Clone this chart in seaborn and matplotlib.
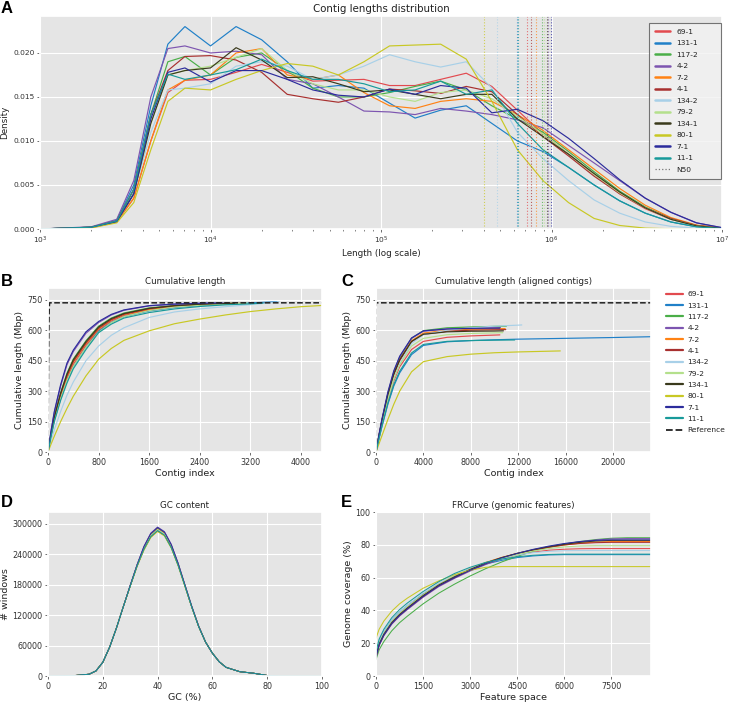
import numpy as np
import pandas as pd
import matplotlib
matplotlib.use("Agg")
import matplotlib.pyplot as plt
import seaborn as sns
from matplotlib.lines import Line2D
from matplotlib.ticker import MultipleLocator

# =========================
# SAMPLES + COLOURS
# =========================
samples = ["69-1", "131-1", "117-2", "4-2", "7-2", "4-1",
           "134-2", "79-2", "134-1", "80-1", "7-1", "11-1"]
colors = ["#e24a4f", "#2080c8", "#4aae48", "#7d55b0", "#ff8214", "#a8302f",
          "#a8d0e8", "#b4e08c", "#3a3a1c", "#c8c824", "#2c2c9c", "#189a9a"]
pal = dict(zip(samples, colors))

# =========================
# A: contig length density (x = log10 length, y = density x 1000)
# =========================
log_len = [3.0, 3.3, 3.45, 3.55, 3.65, 3.75, 3.85, 4.0, 4.15, 4.3, 4.45, 4.6, 4.75, 4.9,
           5.05, 5.2, 5.35, 5.5, 5.65, 5.8, 5.95, 6.1, 6.25, 6.4, 6.55, 6.7, 6.85, 7.0]
dens = {
    "69-1":  [0, 0.15, 0.8, 3.5, 10.0, 15.5, 16.9, 17.0, 17.8, 18.7, 17.8, 16.8, 16.9, 17.0,
              16.3, 16.3, 17.0, 17.7, 16.2, 13.5, 10.8, 8.5, 6.2, 4.0, 2.3, 1.1, 0.4, 0.1],
    "131-1": [0, 0.2, 1.0, 5.0, 14.0, 21.0, 23.0, 20.8, 23.0, 21.5, 19.0, 16.0, 16.3, 16.0,
              14.3, 12.6, 13.5, 14.0, 12.0, 10.0, 8.8, 7.0, 5.0, 3.2, 1.8, 0.8, 0.25, 0.05],
    "117-2": [0, 0.2, 0.9, 4.5, 13.0, 19.0, 19.6, 17.5, 19.5, 20.0, 18.0, 16.0, 15.0, 15.0,
              15.5, 16.2, 16.8, 15.8, 14.0, 12.5, 11.0, 8.8, 6.5, 4.3, 2.5, 1.2, 0.4, 0.1],
    "4-2":   [0, 0.25, 1.1, 5.5, 15.0, 20.5, 20.8, 20.0, 20.2, 19.8, 17.0, 16.5, 15.0, 13.4,
              13.3, 13.0, 13.7, 13.4, 13.0, 12.4, 11.5, 9.5, 7.5, 5.5, 3.5, 1.9, 0.7, 0.15],
    "7-2":   [0, 0.15, 0.8, 3.5, 10.0, 15.8, 16.9, 17.5, 20.0, 20.5, 17.5, 17.0, 17.5, 15.5,
              14.0, 13.7, 14.5, 14.8, 14.5, 13.0, 11.2, 9.0, 6.8, 4.6, 2.7, 1.3, 0.45, 0.1],
    "4-1":   [0, 0.2, 0.9, 4.5, 13.0, 18.0, 19.6, 19.7, 19.2, 17.8, 15.3, 14.8, 14.4, 15.0,
              15.9, 15.7, 15.4, 16.2, 15.6, 13.0, 10.5, 8.3, 6.0, 4.0, 2.4, 1.2, 0.4, 0.1],
    "134-2": [0, 0.2, 0.85, 4.0, 11.0, 15.8, 16.0, 16.5, 18.5, 19.0, 18.5, 17.0, 17.5, 18.5,
              19.8, 19.0, 18.4, 19.0, 16.0, 11.0, 8.0, 5.5, 3.3, 1.8, 0.8, 0.3, 0.1, 0.0],
    "79-2":  [0, 0.2, 0.85, 4.0, 12.0, 17.5, 18.0, 18.5, 19.5, 20.5, 18.0, 16.5, 15.8, 15.8,
              15.0, 14.5, 15.5, 15.8, 14.8, 12.8, 10.8, 8.5, 6.2, 4.1, 2.4, 1.1, 0.35, 0.08],
    "134-1": [0, 0.2, 0.85, 4.0, 12.0, 17.5, 18.0, 18.3, 20.6, 19.2, 17.2, 17.3, 16.5, 15.6,
              15.8, 15.3, 14.8, 15.3, 15.3, 12.5, 10.5, 8.5, 6.3, 4.2, 2.4, 1.1, 0.35, 0.08],
    "80-1":  [0, 0.12, 0.7, 3.0, 9.0, 14.5, 16.0, 15.8, 17.0, 18.0, 18.8, 18.5, 17.5, 19.0,
              20.8, 20.9, 21.0, 19.3, 14.5, 9.0, 5.5, 3.0, 1.2, 0.4, 0.1, 0.03, 0.0, 0.0],
    "7-1":   [0, 0.2, 0.85, 4.0, 12.5, 17.8, 18.3, 16.7, 18.0, 18.0, 17.0, 15.8, 15.2, 15.0,
              15.9, 15.3, 16.3, 16.0, 13.2, 13.6, 12.3, 10.3, 8.0, 5.6, 3.5, 1.9, 0.7, 0.15],
    "11-1":  [0, 0.2, 0.9, 4.5, 13.0, 17.6, 17.0, 17.5, 18.1, 19.3, 18.0, 17.0, 17.0, 16.5,
              15.6, 15.8, 16.8, 15.3, 15.8, 12.0, 9.0, 7.0, 5.0, 3.2, 1.8, 0.8, 0.25, 0.05],
}
n50 = [716000, 625000, 880000, 960000, 810000, 755000,
       477000, 900000, 935000, 404000, 990000, 640000]

# =========================
# B: cumulative length (Mbp)
# =========================
b_grid = [0, 50, 100, 200, 300, 400, 600, 800, 1000, 1200, 1600, 2000, 2400, 2800, 3200, 3600, 4000]
b_cum = {
    "69-1":  [0, 85, 160, 272, 362, 432, 525, 600, 645, 673, 700, 716, 725, 730],
    "131-1": [0, 82, 155, 262, 350, 420, 515, 595, 638, 667, 695, 712, 722, 729, 735, 740],
    "117-2": [0, 95, 175, 292, 388, 458, 548, 620, 660, 685, 710, 722, 728, 732],
    "4-2":   [0, 105, 195, 325, 430, 495, 585, 638, 675, 698, 720, 728, 732, 734],
    "7-2":   [0, 88, 165, 280, 372, 442, 533, 606, 650, 677, 703, 718, 726, 731],
    "4-1":   [0, 88, 168, 284, 376, 446, 537, 610, 652, 679, 706, 720, 727, 731],
    "134-2": [0, 58, 110, 200, 280, 345, 450, 522, 575, 612, 663, 690, 705, 716, 726, 738],
    "79-2":  [0, 82, 155, 265, 352, 420, 515, 590, 637, 667, 697, 714, 723, 729],
    "134-1": [0, 92, 172, 290, 384, 454, 544, 616, 657, 682, 708, 721, 728, 732],
    "80-1":  [0, 40, 78, 150, 215, 275, 375, 457, 510, 550, 597, 632, 655, 675, 692, 705, 716],
    "7-1":   [0, 108, 200, 332, 438, 502, 592, 643, 678, 700, 721, 729, 733],
    "11-1":  [0, 80, 150, 255, 340, 410, 505, 588, 630, 660, 687, 705, 717, 725, 730],
}
b_end_idx = [3050, 3620, 3000, 2850, 3100, 2900, 3650, 3150, 2950, 4330, 2750, 3400]
b_end_cum = [732, 741, 733, 734, 733, 732, 741, 734, 733, 722, 735, 734]

# =========================
# C: cumulative length, aligned contigs (Mbp)
# =========================
c_grid = [0, 250, 500, 1000, 1500, 2000, 3000, 4000, 6000, 8000, 10000, 12000, 16000, 20000]
c_cum = {
    "69-1":  [0, 70, 140, 255, 350, 420, 505, 545, 565, 572, 576],
    "131-1": [0, 65, 125, 235, 325, 390, 480, 525, 543, 549, 553, 556, 560, 564],
    "117-2": [0, 80, 155, 285, 390, 465, 560, 598, 612, 616, 619],
    "4-2":   [0, 82, 158, 290, 395, 468, 560, 595, 606, 610, 612],
    "7-2":   [0, 78, 152, 280, 383, 455, 548, 586, 600, 605, 607],
    "4-1":   [0, 78, 150, 278, 380, 450, 543, 580, 595, 600, 602],
    "134-2": [0, 72, 140, 262, 362, 435, 535, 578, 600, 612, 620, 625],
    "79-2":  [0, 72, 140, 262, 360, 430, 522, 560, 578, 584, 587],
    "134-1": [0, 80, 155, 283, 385, 455, 545, 580, 592, 595, 596],
    "80-1":  [0, 40, 80, 160, 235, 300, 395, 445, 470, 482, 489, 493],
    "7-1":   [0, 85, 162, 295, 400, 472, 562, 597, 606, 609, 610],
    "11-1":  [0, 65, 128, 240, 332, 398, 488, 530, 545, 549, 551],
}
c_end_idx = [10450, 23200, 11000, 10500, 10900, 10950, 12300, 10700, 10750, 15550, 10450, 11700]
c_end_cum = [577, 568, 620, 613, 608, 603, 626, 588, 597, 498, 610, 552]

# reference assembly (Mbp)
ref_idx = [0, 8, 15, 20, 25, 25000]
ref_cum = [0, 420, 640, 710, 735, 735]

# =========================
# D: GC content (# windows)
# =========================
gc_pct = [0, 10, 15, 17.5, 20, 22.5, 25, 27.5, 30, 32.5, 35, 37.5, 40, 42.5,
          45, 47.5, 50, 52.5, 55, 57.5, 60, 62.5, 65, 70, 75, 80, 85, 100]
gc_win = {
    "69-1":  [0, 1000, 3500, 10000, 27000, 57000, 95000, 137000, 178000, 218000, 252000, 278000, 290000, 281000,
              256000, 220000, 178000, 136000, 98000, 67000, 45000, 28000, 17000, 8500, 5500, 1000, 100, 0],
    "131-1": [0, 1000, 3500, 10000, 27000, 57000, 95000, 137000, 178000, 219000, 254000, 280000, 292000, 283000,
              258000, 221000, 179000, 137000, 98000, 67000, 45000, 28000, 17000, 8500, 5500, 1000, 100, 0],
    "117-2": [0, 1000, 3500, 10000, 27000, 57000, 95000, 137000, 178000, 218000, 253000, 279000, 291000, 282000,
              257000, 221000, 178000, 136000, 98000, 67000, 45000, 28000, 17000, 8500, 5500, 1000, 100, 0],
    "4-2":   [0, 1000, 3500, 10000, 27000, 57000, 95000, 137000, 179000, 220000, 256000, 282000, 294000, 285000,
              260000, 223000, 180000, 137000, 99000, 67000, 45000, 28000, 17000, 8500, 5500, 1000, 100, 0],
    "7-2":   [0, 1000, 3500, 10000, 27000, 57000, 95000, 137000, 178000, 218000, 251000, 277000, 289000, 280000,
              255000, 220000, 178000, 136000, 98000, 67000, 45000, 28000, 17000, 8500, 5500, 1000, 100, 0],
    "4-1":   [0, 1000, 3500, 10000, 27000, 57000, 95000, 137000, 178000, 218000, 252000, 278000, 290500, 281500,
              256000, 220000, 178000, 136000, 98000, 67000, 45000, 28000, 17000, 8500, 5500, 1000, 100, 0],
    "134-2": [0, 1000, 3500, 10000, 27000, 57000, 95000, 137000, 178000, 217000, 251000, 276000, 288000, 279000,
              254000, 219000, 177000, 136000, 98000, 67000, 45000, 28000, 17000, 8500, 5500, 1000, 100, 0],
    "79-2":  [0, 1000, 3500, 10000, 27000, 57000, 95000, 137000, 178000, 218000, 251000, 277000, 289500, 280500,
              255000, 220000, 178000, 136000, 98000, 67000, 45000, 28000, 17000, 8500, 5500, 1000, 100, 0],
    "134-1": [0, 1000, 3500, 10000, 27000, 57000, 95000, 137000, 177000, 216000, 249000, 274000, 286000, 277000,
              253000, 218000, 177000, 135000, 97000, 67000, 45000, 28000, 17000, 8500, 5500, 1000, 100, 0],
    "80-1":  [0, 1000, 3500, 10000, 27000, 57000, 95000, 137000, 177000, 216000, 248000, 273000, 285000, 276000,
              252000, 217000, 176000, 135000, 97000, 67000, 45000, 28000, 17000, 8500, 5500, 1000, 100, 0],
    "7-1":   [0, 1000, 3500, 10000, 27000, 57000, 95000, 137000, 179000, 219000, 255000, 281000, 293000, 284000,
              259000, 222000, 179000, 137000, 98000, 67000, 45000, 28000, 17000, 8500, 5500, 1000, 100, 0],
    "11-1":  [0, 1000, 3500, 10000, 27000, 57000, 95000, 137000, 177000, 217000, 250000, 275000, 287000, 278000,
              253000, 218000, 177000, 135000, 97000, 67000, 45000, 28000, 17000, 8500, 5500, 1000, 100, 0],
}

# =========================
# E: FRCurve (genome coverage %)
# =========================
feat = [0, 100, 250, 500, 750, 1000, 1500, 2000, 2500, 3000, 3500, 4000,
        4500, 5000, 5500, 6000, 6500, 7000, 7500, 8000, 8760]
frc = {
    "69-1":  [12, 19.5, 25.5, 32.5, 37.5, 41.5, 49, 55.5, 60.5, 64.8, 68.5, 71.5, 73.8, 75.5, 76.7, 77.3, 77.6, 77.7, 77.7, 77.7, 77.7],
    "131-1": [13, 21, 27, 34, 39, 43, 50, 56, 61, 65, 68.3, 70.5, 72.2, 73.2, 73.8, 74.0, 74.0, 74.0, 74.0, 74.0, 74.0],
    "117-2": [10, 16, 21, 27.5, 32.5, 36.5, 44, 50.5, 56, 61, 65.5, 69.5, 73, 76, 78.5, 80.5, 82, 83.2, 84, 84.3, 84.3],
    "4-2":   [11, 18.5, 24.5, 31.5, 36.5, 40.5, 48, 54.5, 59.5, 64, 68, 71.5, 74.3, 76.8, 78.8, 80.5, 81.8, 82.9, 83.6, 83.8, 83.8],
    "7-2":   [12, 20, 26, 33, 38, 42, 49.5, 56, 61, 65.5, 69.3, 72.3, 74.8, 76.8, 78.5, 79.9, 81, 81.7, 82, 82, 82],
    "4-1":   [11.5, 19, 25, 32, 37, 41, 48.5, 55, 60, 64.5, 68.5, 71.8, 74.5, 76.7, 78.5, 79.9, 80.8, 81.3, 81.5, 81.5, 81.5],
    "134-2": [13, 21, 27, 34, 39, 43, 50.5, 56.5, 61.5, 65.5, 69, 71.8, 73.8, 75.2, 76, 76.4, 76.5, 76.5, 76.5, 76.5, 76.5],
    "79-2":  [12, 20, 26, 33, 38, 42, 49.5, 55.8, 60.8, 65, 68.7, 71.7, 74.2, 76.2, 77.7, 78.7, 79.3, 79.5, 79.5, 79.5, 79.5],
    "134-1": [12, 19.5, 25.5, 32.5, 37.5, 41.5, 49, 55.5, 60.5, 65, 69, 72.2, 74.8, 77, 78.8, 80.3, 81.5, 82.3, 82.7, 82.7, 82.7],
    "80-1":  [23, 28.5, 33.5, 39.5, 44, 47.5, 53.5, 58, 61.8, 64.5, 66.3, 66.7, 66.7, 66.7, 66.7, 66.7, 66.7, 66.7, 66.7, 66.7, 66.7],
    "7-1":   [11.5, 19, 25, 32, 37, 41, 48.5, 55, 60, 64.5, 68.5, 72, 74.8, 77.2, 79.2, 80.8, 82, 82.7, 83, 83, 83],
    "11-1":  [15, 22.5, 28.5, 35.5, 40.5, 44.5, 51.5, 57.5, 62.5, 66.3, 69.3, 71.3, 72.7, 73.6, 74.1, 74.3, 74.3, 74.3, 74.3, 74.3, 74.3],
}

# =========================
# LONG TABLES
# =========================
df_a = pd.DataFrame([(s, 10 ** x, y / 1000) for s in samples for x, y in zip(log_len, dens[s])],
                    columns=["sample", "length", "density"])

rows = []
for i, s in enumerate(samples):
    for x, y in zip(b_grid, b_cum[s]):
        if x < b_end_idx[i]:
            rows.append((s, x, y))
    rows.append((s, b_end_idx[i], b_end_cum[i]))
df_b = pd.DataFrame(rows, columns=["sample", "idx", "cum"])

rows = []
for i, s in enumerate(samples):
    for x, y in zip(c_grid, c_cum[s]):
        if x < c_end_idx[i]:
            rows.append((s, x, y))
    rows.append((s, c_end_idx[i], c_end_cum[i]))
df_c = pd.DataFrame(rows, columns=["sample", "idx", "cum"])

df_d = pd.DataFrame([(s, x, y) for s in samples for x, y in zip(gc_pct, gc_win[s])],
                    columns=["sample", "gc", "windows"])
df_e = pd.DataFrame([(s, x, y) for s in samples for x, y in zip(feat, frc[s])],
                    columns=["sample", "feature", "coverage"])
df_ref = pd.DataFrame({"idx": ref_idx, "cum": ref_cum})

# =========================
# STYLE
# =========================
sns.set_theme(style="darkgrid", rc={
    "axes.facecolor": "#E5E5E5",
    "grid.color": "white",
    "grid.linewidth": 0.8,
    "xtick.bottom": True,
    "ytick.left": True,
    "xtick.major.size": 2.5,
    "ytick.major.size": 2.5,
    "xtick.major.width": 0.6,
    "ytick.major.width": 0.6,
    "xtick.minor.size": 1.6,
    "xtick.minor.width": 0.5,
    "xtick.color": "#555555",
    "ytick.color": "#555555",
    "xtick.labelcolor": "#333333",
    "ytick.labelcolor": "#333333",
    "axes.labelcolor": "#222222",
    "text.color": "#222222",
    "lines.solid_joinstyle": "bevel",
})
plt.rcParams["font.family"] = ["DejaVu Sans"]

W, H = 729, 702


def box(l, t, r, b):
    return [l / W, 1 - b / H, (r - l) / W, (b - t) / H]


fig = plt.figure(figsize=(W / 100, H / 100), dpi=100)
ax_a = fig.add_axes(box(40, 16, 722, 229))
ax_b = fig.add_axes(box(48, 288, 322, 452))
ax_c = fig.add_axes(box(376, 288, 651, 452))
ax_d = fig.add_axes(box(48, 512, 322, 676))
ax_e = fig.add_axes(box(376, 512, 651, 676))

lw = 0.85
tick_fs = 5.8
lab_fs = 6.8
title_fs = 6.3
# one value per (sample, x): no aggregation band
line_kw = dict(hue="sample", hue_order=samples, palette=pal, legend=False,
               errorbar=None, estimator=None)

# ---------- A ----------
sns.lineplot(data=df_a, x="length", y="density", ax=ax_a, lw=lw, **line_kw)
for s, v in zip(samples, n50):
    ax_a.axvline(v, color=pal[s], ls=":", lw=0.8, alpha=0.75)
ax_a.set_xscale("log")
ax_a.set_xlim(1e3, 1e7)
ax_a.set_ylim(0, 0.0242)
ax_a.yaxis.set_major_locator(MultipleLocator(0.005))
ax_a.set_title("Contig lengths distribution", fontsize=7.4, pad=3)
ax_a.set_xlabel("Length (log scale)", fontsize=6.3, labelpad=2)
ax_a.set_ylabel("Density", fontsize=6.3, labelpad=3)
ax_a.tick_params(labelsize=5.4, pad=1.5)
ax_a.tick_params(axis="x", which="minor", bottom=True)
ax_a.grid(which="minor", visible=False)
h_a = [Line2D([], [], color=pal[s], lw=1.8) for s in samples]
h_a.append(Line2D([], [], color="#777777", ls=":", lw=0.9))
leg_x0 = (649 - 40) / 682
leg_w = (721 - 649) / 682
leg = ax_a.legend(h_a, samples + ["N50"], loc="upper left",
                  bbox_to_anchor=(leg_x0, 0, leg_w, 1 - 7 / 213), mode="expand",
                  borderaxespad=0, fontsize=5.4, frameon=True, fancybox=False,
                  handlelength=2.1, handletextpad=0.8, labelspacing=0.70, borderpad=0.75)
leg.get_frame().set_facecolor("#F2F2F2")
leg.get_frame().set_edgecolor("#555555")
leg.get_frame().set_linewidth(0.8)

# ---------- B ----------
sns.lineplot(data=df_b, x="idx", y="cum", ax=ax_b, lw=lw, **line_kw)
sns.lineplot(data=df_ref, x="idx", y="cum", color="#222222", ls="--", lw=1.1,
             errorbar=None, estimator=None, ax=ax_b)
ax_b.set_xlim(0, 4330)
ax_b.set_ylim(0, 808)
ax_b.xaxis.set_major_locator(MultipleLocator(800))
ax_b.yaxis.set_major_locator(MultipleLocator(150))
ax_b.set_title("Cumulative length", fontsize=title_fs, pad=3)
ax_b.set_xlabel("Contig index", fontsize=lab_fs, labelpad=1.5)
ax_b.set_ylabel("Cumulative length (Mbp)", fontsize=lab_fs, labelpad=2)
ax_b.tick_params(labelsize=tick_fs, pad=1.5)

# ---------- C ----------
sns.lineplot(data=df_c, x="idx", y="cum", ax=ax_c, lw=lw, **line_kw)
sns.lineplot(data=df_ref, x="idx", y="cum", color="#222222", ls="--", lw=1.1,
             errorbar=None, estimator=None, ax=ax_c)
ax_c.set_xlim(0, 23200)
ax_c.set_ylim(0, 808)
ax_c.xaxis.set_major_locator(MultipleLocator(4000))
ax_c.yaxis.set_major_locator(MultipleLocator(150))
ax_c.set_title("Cumulative length (aligned contigs)", fontsize=title_fs, pad=3)
ax_c.set_xlabel("Contig index", fontsize=lab_fs, labelpad=1.5)
ax_c.set_ylabel("Cumulative length (Mbp)", fontsize=lab_fs, labelpad=2)
ax_c.tick_params(labelsize=tick_fs, pad=1.5)
h_c = [Line2D([], [], color=pal[s], lw=1.6) for s in samples]
h_c.append(Line2D([], [], color="#222222", ls="--", lw=1.3))
ax_c.legend(h_c, samples + ["Reference"], loc="upper left", bbox_to_anchor=(1 + 12 / 275, 1.0),
            borderaxespad=0, frameon=False, fontsize=5.4, handlelength=2.3, handletextpad=0.55,
            labelspacing=0.68)

# ---------- D ----------
sns.lineplot(data=df_d, x="gc", y="windows", ax=ax_d, lw=0.65, **line_kw)
ax_d.set_xlim(0, 100)
ax_d.set_ylim(0, 323500)
ax_d.xaxis.set_major_locator(MultipleLocator(20))
ax_d.yaxis.set_major_locator(MultipleLocator(60000))
ax_d.set_title("GC content", fontsize=title_fs, pad=3)
ax_d.set_xlabel("GC (%)", fontsize=lab_fs, labelpad=1.5)
ax_d.set_ylabel("# windows", fontsize=lab_fs, labelpad=2)
ax_d.tick_params(labelsize=tick_fs, pad=1.5)

# ---------- E ----------
sns.lineplot(data=df_e, x="feature", y="coverage", ax=ax_e, lw=0.75, **line_kw)
ax_e.set_xlim(0, 8760)
ax_e.set_ylim(0, 100)
ax_e.xaxis.set_major_locator(MultipleLocator(1500))
ax_e.yaxis.set_major_locator(MultipleLocator(20))
ax_e.set_title("FRCurve (genomic features)", fontsize=title_fs, pad=3)
ax_e.set_xlabel("Feature space", fontsize=lab_fs, labelpad=1.5)
ax_e.set_ylabel("Genome coverage (%)", fontsize=lab_fs, labelpad=2)
ax_e.tick_params(labelsize=tick_fs, pad=1.5)

# ---------- panel letters ----------
for lab, x, y in [("A", 1, 1), ("B", 1, 274), ("C", 341, 274), ("D", 1, 495), ("E", 341, 495)]:
    fig.text(x / W, 1 - y / H, lab, fontsize=12, fontweight="bold", ha="left", va="top",
             family=["Liberation Sans", "DejaVu Sans"], color="black")

fig.savefig("out.png", dpi=100)
